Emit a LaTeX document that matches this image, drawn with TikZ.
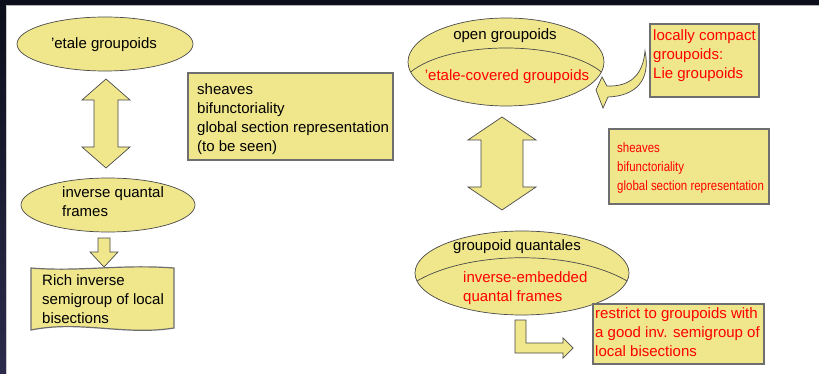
\documentclass[tikz,border=0pt]{standalone}
\usepackage{fontspec}
\setmainfont{Liberation Sans}
\newfontfamily\narrowfont[FakeStretch=0.85]{Liberation Sans}
\usetikzlibrary{shapes.geometric}
\definecolor{khaki}{HTML}{F0E68C}
\definecolor{edgegray}{HTML}{4A4A4A}
\definecolor{boxedge}{HTML}{6E6E6E}
\definecolor{slidered}{HTML}{FF0000}
\definecolor{framedark}{HTML}{0C0E1B}
\definecolor{framelow}{HTML}{2C2B4C}
\tikzset{
  blob/.style={ellipse, draw=edgegray, fill=khaki, line width=0.7pt, inner sep=0pt},
  boxshape/.style={draw=boxedge, fill=khaki, line width=1.2pt},
  blockarrow/.style={draw=edgegray, fill=khaki, line width=0.7pt, line join=miter},
  txt/.style={font=\fontsize{15}{19}\selectfont, inner sep=0pt, align=left},
  smalltxt/.style={font=\narrowfont\fontsize{13.5}{19}\selectfont, inner sep=0pt, align=left, text=slidered},
}
\begin{document}
\begin{tikzpicture}[x=1pt,y=-1pt]
\useasboundingbox (0,0) rectangle (819,374);
% slide frame
\fill[framedark] (0,0) rectangle (819,5);
\shade[top color=framedark, bottom color=framelow] (0,0) rectangle (6,374);
\fill[white] (6,6) rectangle (819,374);
\draw[gray!60, line width=1pt] (6,5.5) -- (819,5.5);
\draw[gray!40, line width=0.8pt] (6.2,5.5) -- (6.2,374);

% ---------- left column ----------
\node[blob, minimum width=176pt, minimum height=54pt] (etale) at (105,44) {};
\node[txt, anchor=base] (etaletxt) at (104,49) {'etale groupoids};

% double arrow
\path[blockarrow] (106,79) -- (130,100) -- (118,100) -- (118,147) -- (130,147) -- (106,168)
  -- (82,147) -- (94,147) -- (94,100) -- (82,100) -- cycle;

\draw[boxshape] (188,73) rectangle (393,160);
\node[txt, anchor=base west] (props) at (197,152) {sheaves\\bifunctoriality\\global section representation\\(to be seen)};

\node[blob, minimum width=174pt, minimum height=54pt] (iqf) at (108,205) {};
\node[txt, anchor=base west] (iqftxt) at (62,217) {inverse quantal\\frames};

% down arrow
\path[blockarrow] (98,238) -- (110,238) -- (110,252) -- (118,252) -- (104,267) -- (90,252) -- (98,252) -- cycle;

% wavy document box
\path[boxshape] (31,268) .. controls (80,272) and (120,264) .. (174,268)
  -- (174,328) .. controls (125,336) and (80,320) .. (31,330) -- cycle;
\node[txt, anchor=base west] (rich) at (42,323) {Rich inverse\\semigroup of local\\bisections};

% ---------- right column ----------
\node[blob, minimum width=196pt, minimum height=88pt] (open) at (506,62) {};
\draw[edgegray, line width=0.7pt] (410.6,72) .. controls (450,40) and (562,40) .. (601.4,72);
\node[txt, anchor=base] (opentxt) at (505,40) {open groupoids};
\node[txt, anchor=base, text=slidered] (covtxt) at (507,81) {'etale-covered groupoids};

% curved arrow
\path[blockarrow] (645,51) .. controls (651,80) and (636,96) .. (608,97) -- (603,108) -- (596,90)
  -- (602,77) -- (607,86) .. controls (630,87) and (643,75) .. (645,51) -- cycle;

\draw[boxshape] (650,24) rectangle (759,97);
\node[txt, anchor=base west, text=slidered] (lc) at (653,79) {locally compact\\groupoids:\\Lie groupoids};

% right double arrow
\path[blockarrow] (502,117) -- (536,140) -- (523,140) -- (523,187) -- (536,187) -- (502,210)
  -- (468,187) -- (481,187) -- (481,140) -- (468,140) -- cycle;

\draw[boxshape] (609,129) rectangle (769,204);
\node[smalltxt, anchor=base west] (props2) at (617,191) {sheaves\\bifunctoriality\\global section representation};

\node[blob, minimum width=214pt, minimum height=84pt] (gq) at (522,273) {};
\draw[edgegray, line width=0.7pt] (417,281) .. controls (470,250) and (574,250) .. (627,281);
\node[txt, anchor=base] (gqtxt) at (517,250) {groupoid quantales};
\node[txt, anchor=base west, text=slidered] (ieqf) at (463,301) {inverse-embedded\\quantal frames};

% bent arrow
\path[blockarrow] (515,320) -- (526,320) -- (526,343) -- (563,343) -- (563,338) -- (573,348)
  -- (563,358) -- (563,353) -- (515,353) -- cycle;

\draw[boxshape] (593,304) rectangle (764,364);
\node[txt, anchor=base west, text=slidered] (restrict) at (595,356) {restrict to groupoids with\\a good inv. semigroup of\\local bisections};
\end{tikzpicture}
\end{document}
